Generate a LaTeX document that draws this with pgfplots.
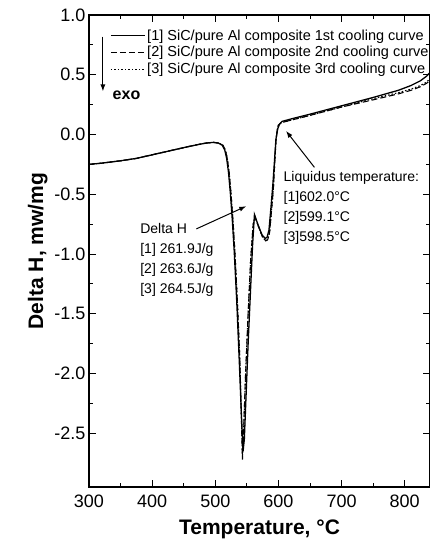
\documentclass[border=0pt]{standalone}
\usepackage{pgfplots}
\pgfplotsset{compat=1.18}
\usepackage{fontspec}
\setmainfont{Liberation Sans}
\usetikzlibrary{arrows.meta}
\begin{document}
\begin{tikzpicture}
\begin{axis}[
  scale only axis,
  width=341pt, height=472pt,
  xmin=300, xmax=840, ymin=-2.95, ymax=1.0,
  xtick={300,400,500,600,700,800},
  ytick={-2.5,-2.0,-1.5,-1.0,-0.5,0.0,0.5,1.0},
  yticklabels={-2.5,-2.0,-1.5,-1.0,-0.5,0.0,0.5,1.0},
  minor x tick num=1, minor y tick num=1,
  tick align=inside,
  major tick length=7pt, minor tick length=4pt,
  tick style={line width=0.9pt, black},
  axis line style={line width=1.1pt},
  tick label style={font=\fontsize{18}{18}\selectfont},
  xticklabel style={yshift=-4pt},
  /pgf/number format/assume math mode=true,
  xlabel={\textbf{Temperature, °C}},
  ylabel={\textbf{Delta H, mw/mg}},
  label style={font=\fontsize{21}{21}\selectfont},
  xlabel style={yshift=-6pt},
  clip=false,
  legend style={draw=none, fill=none, at={(rel axis cs:0.062,0.973)}, anchor=north west,
    font=\fontsize{14.5}{14.5}\selectfont, row sep=0.5pt, inner sep=0pt,
    /tikz/every even column/.append style={column sep=0pt}},
  legend cell align=left,
  legend image code/.code={\draw[#1, line width=0.9pt] (0pt,0pt) -- (34pt,0pt);},
]
\addplot[black, line width=1.3pt] coordinates {
(300,-0.25)(320,-0.24)(350,-0.22)(375,-0.20)(400,-0.17)(425,-0.14)(450,-0.11)(470,-0.087)(485,-0.072)(497,-0.066)(505,-0.072)(511,-0.09)(515,-0.13)(518,-0.2)(521,-0.32)(524,-0.5)(527,-0.72)(530,-0.98)(534,-1.4)(538,-1.9)(541,-2.3)(544,-2.65)(546,-2.55)(549,-2.15)(552,-1.75)(556,-1.28)(559,-0.93)(562,-0.67)(568,-0.76)(574,-0.84)(579,-0.87)(582,-0.86)(585,-0.8)(588,-0.62)(591,-0.43)(594,-0.2)(596,-0.04)(599,0.05)(602,0.09)(606,0.11)(620,0.13)(650,0.17)(700,0.24)(750,0.31)(790,0.37)(810,0.41)(825,0.45)(835,0.49)(840,0.52)
};
\addlegendentry{[1] SiC/pure Al composite 1st cooling curve}
\addplot[black, line width=1.1pt, dash pattern=on 6pt off 3pt] coordinates {
(300,-0.25)(320,-0.24)(350,-0.22)(375,-0.20)(400,-0.17)(425,-0.14)(450,-0.11)(470,-0.087)(485,-0.072)(497,-0.066)(506,-0.072)(512,-0.09)(516,-0.13)(519,-0.2)(522,-0.32)(525,-0.5)(528,-0.72)(531,-0.98)(535,-1.4)(539,-1.9)(541,-2.3)(543,-2.72)(545,-2.45)(548,-2.0)(552,-1.5)(556,-1.05)(560,-0.75)(563,-0.69)(569,-0.78)(575,-0.86)(580,-0.89)(583,-0.88)(586,-0.82)(589,-0.64)(592,-0.45)(594,-0.25)(596,-0.06)(598,0.04)(600,0.08)(605,0.10)(620,0.12)(650,0.16)(700,0.23)(750,0.29)(790,0.34)(810,0.37)(825,0.40)(835,0.43)(840,0.45)
};
\addlegendentry{[2] SiC/pure Al composite 2nd cooling curve}
\addplot[black, line width=1.1pt, dash pattern=on 1.5pt off 2pt] coordinates {
(300,-0.25)(320,-0.24)(350,-0.22)(375,-0.20)(400,-0.17)(425,-0.14)(450,-0.11)(470,-0.087)(485,-0.072)(497,-0.066)(506,-0.072)(512,-0.09)(516,-0.13)(519,-0.2)(522,-0.32)(525,-0.5)(528,-0.72)(531,-0.98)(535,-1.4)(539,-1.9)(541,-2.3)(543,-2.7)(545,-2.45)(548,-2.0)(552,-1.5)(556,-1.05)(560,-0.75)(563,-0.69)(569,-0.78)(575,-0.86)(580,-0.89)(583,-0.88)(586,-0.82)(589,-0.64)(592,-0.45)(594,-0.25)(596,-0.06)(598,0.04)(600,0.08)(605,0.10)(620,0.12)(650,0.16)(700,0.23)(750,0.30)(790,0.35)(810,0.38)(825,0.41)(835,0.44)(840,0.47)
};
\addlegendentry{[3] SiC/pure Al composite 3rd cooling curve}
% exo arrow
\draw[line width=1.1pt, -{Latex[length=7pt,width=5pt]}] (axis cs:322,0.82) -- (axis cs:322,0.36);
\node[anchor=west, font=\fontsize{16}{16}\selectfont\bfseries] at (axis cs:332,0.325) {exo};
% liquidus annotation
\node[anchor=north west, align=left, inner sep=0pt, font=\fontsize{14}{20}\selectfont] at (axis cs:608,-0.31)
 {Liquidus temperature:\\{}[1]602.0°C\\{}[2]599.1°C\\{}[3]598.5°C};
\draw[line width=1pt, -{Latex[length=7pt,width=5pt]}] (axis cs:657,-0.275) -- (axis cs:612,0.03);
% Delta H annotation
\node[anchor=north west, align=left, inner sep=0pt, font=\fontsize{14}{20}\selectfont] at (axis cs:381,-0.745)
 {Delta H\\{}[1] 261.9J/g\\{}[2] 263.6J/g\\{}[3] 264.5J/g};
\draw[line width=1pt, -{Latex[length=7pt,width=5pt]}] (axis cs:470,-0.79) -- (axis cs:549,-0.6);
\end{axis}
\pgfresetboundingbox
\path ([xshift=-89pt,yshift=-57pt]current axis.south west) rectangle ([yshift=15pt]current axis.north east);
\end{tikzpicture}
\end{document}
